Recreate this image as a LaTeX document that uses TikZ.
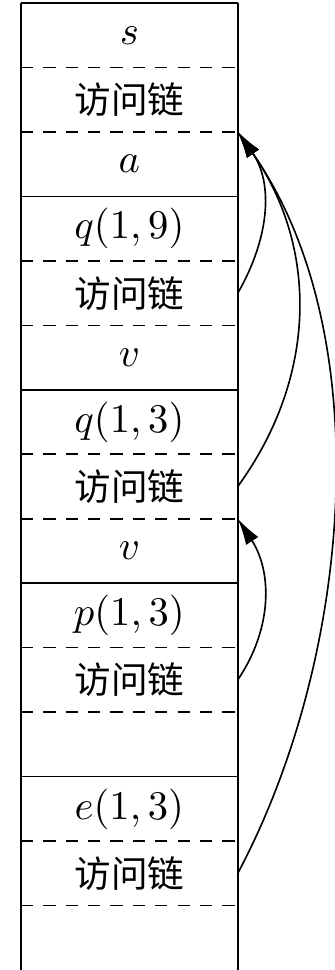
\documentclass[tikz,border=0pt]{standalone}
\usepackage{fontspec}
\newfontfamily\cjk{Noto Sans CJK SC}
\usepackage{tikz}
\usetikzlibrary{positioning,arrows.meta}

\begin{document}
\begin{tikzpicture}[cell/.style = {minimum width=53.3pt, minimum height=15.85pt, inner sep=0pt, outer sep=0pt},
  lk/.style = {cell, font=\cjk\fontsize{9}{9}\selectfont},
  link/.style = {-{Latex[length=6.5pt,width=3.6pt]}},
  sep/.style = {dash pattern=on 3pt off 2.5pt}]
\node[cell] (s) {$s$};
\node[lk] (l1) [below=0pt of s] {访问链};
\node[cell] (a) [below=0pt of l1] {$a$};
\node[cell] (q9) [below=0pt of a] {$q(1,9)$};
\node[lk] (l2) [below=0pt of q9] {访问链};
\node[cell] (v1) [below=0pt of l2] {$v$};
\node[cell] (q3) [below=0pt of v1] {$q(1,3)$};
\node[lk] (l3) [below=0pt of q3] {访问链};
\node[cell] (v2) [below=0pt of l3] {$v$};
\node[cell] (p3) [below=0pt of v2] {$p(1,3)$};
\node[lk] (l4) [below=0pt of p3] {访问链};
\node[cell] (b1) [below=0pt of l4] {};
\node[cell] (e3) [below=0pt of b1] {$e(1,3)$};
\node[lk] (l5) [below=0pt of e3] {访问链};
\node[cell] (b2) [below=0pt of l5] {};

\useasboundingbox ([xshift=-5.16pt,yshift=0.74pt]s.north west) rectangle ([xshift=23.8pt]b2.south east);

\draw (s.north west) -- (s.north east);
\draw (s.north west) -- (b2.south west);
\draw (s.north east) -- (b2.south east);

\draw[sep] (s.south west) -- (s.south east);
\draw[sep] (l1.south west) -- (l1.south east);
\draw (a.south west) -- (a.south east);
\draw[sep] (q9.south west) -- (q9.south east);
\draw[sep] (l2.south west) -- (l2.south east);
\draw (v1.south west) -- (v1.south east);
\draw[sep] (q3.south west) -- (q3.south east);
\draw[sep] (l3.south west) -- (l3.south east);
\draw (v2.south west) -- (v2.south east);
\draw[sep] (p3.south west) -- (p3.south east);
\draw[sep] (l4.south west) -- (l4.south east);
\draw (b1.south west) -- (b1.south east);
\draw[sep] (e3.south west) -- (e3.south east);
\draw[sep] (l5.south west) -- (l5.south east);

\draw[link] (l2.east) to[out=60,in=-55] (l1.south east);
\draw[link] (l3.east) to[out=54,in=-55] (l1.south east);
\draw[link] (l5.east) to[out=62,in=-55,looseness=0.85] (l1.south east);
\draw[link] (l4.east) to[out=56,in=-57] (l3.south east);
\end{tikzpicture}
\end{document}
